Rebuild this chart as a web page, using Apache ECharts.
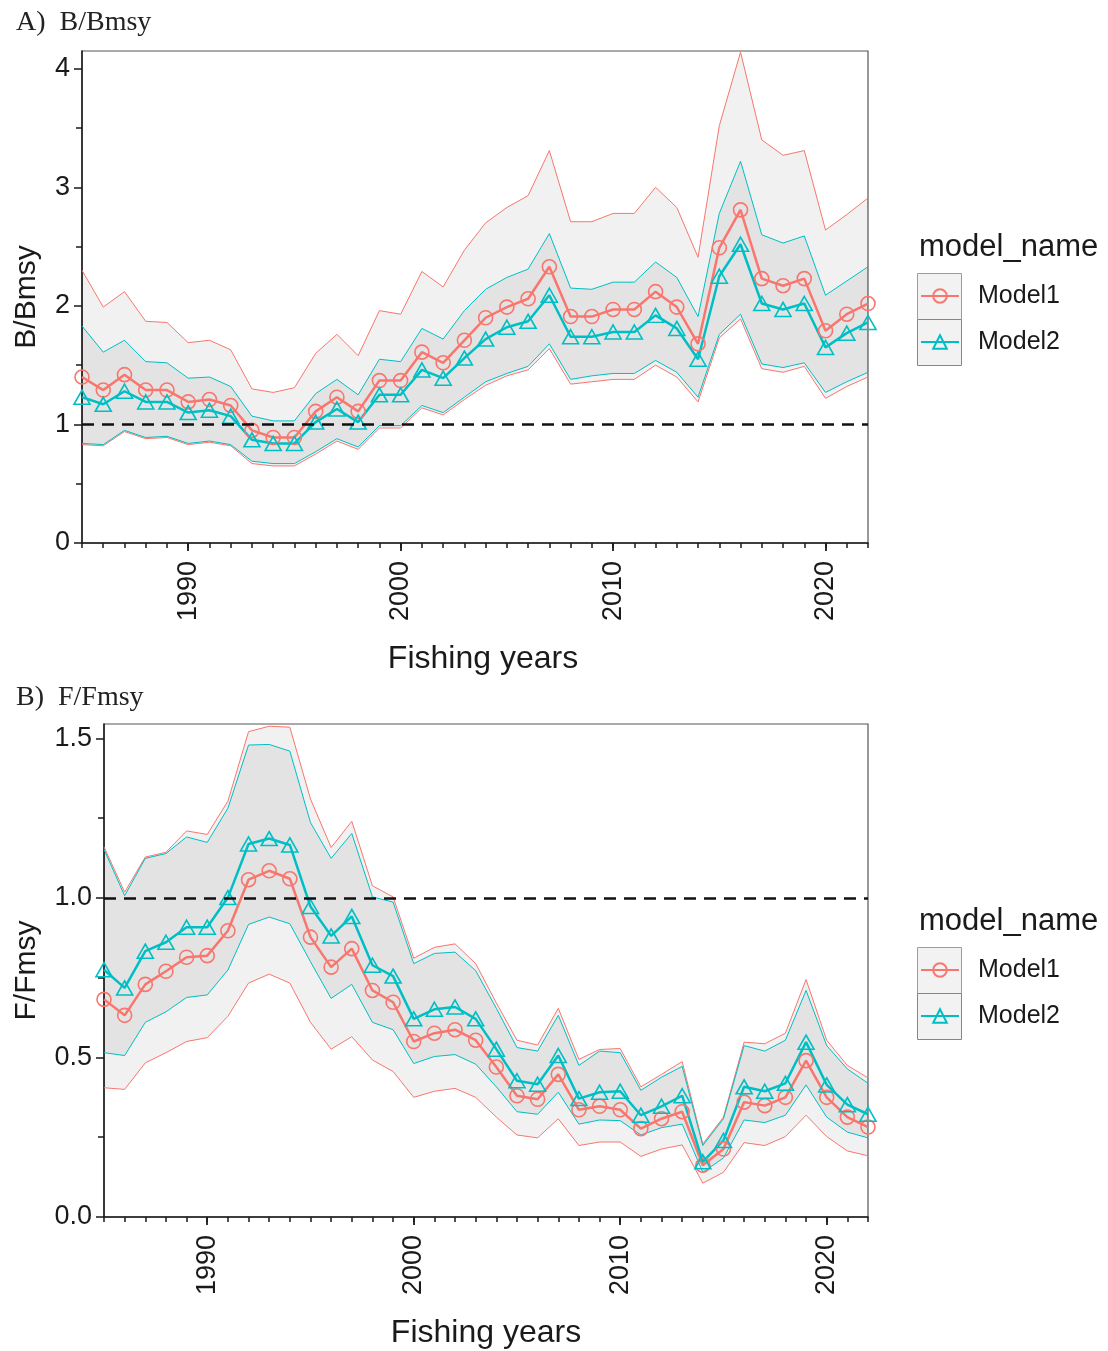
<!DOCTYPE html>
<html>
<head>
<meta charset="utf-8">
<title>B/Bmsy and F/Fmsy by fishing year</title>
<script src="https://cdn.jsdelivr.net/npm/echarts@6/dist/echarts.min.js"></script>
<style>
  html, body { margin: 0; padding: 0; background: #ffffff; }
  #chart { width: 1108px; height: 1351px; }
</style>
</head>
<body>
<div id="chart"></div>
<script>
// ---- data -------------------------------------------------------------
const years = [1985, 1986, 1987, 1988, 1989, 1990, 1991, 1992, 1993, 1994,
               1995, 1996, 1997, 1998, 1999, 2000, 2001, 2002, 2003, 2004,
               2005, 2006, 2007, 2008, 2009, 2010, 2011, 2012, 2013, 2014,
               2015, 2016, 2017, 2018, 2019, 2020, 2021, 2022];
const decadeTicks = [1990, 2000, 2010, 2020];
const modelNames = ['Model1', 'Model2'];

// A) B/Bmsy
const bModel1 = [1.40, 1.29, 1.42, 1.29, 1.29, 1.19, 1.21, 1.16, 0.95, 0.89,
                 0.89, 1.11, 1.23, 1.11, 1.37, 1.37, 1.61, 1.52, 1.71, 1.90,
                 1.99, 2.06, 2.33, 1.91, 1.91, 1.97, 1.97, 2.12, 1.99, 1.68,
                 2.49, 2.81, 2.23, 2.17, 2.23, 1.79, 1.93, 2.02];
const bModel1Lower = [0.83, 0.82, 0.94, 0.88, 0.89, 0.83, 0.85, 0.82, 0.67, 0.65,
                      0.65, 0.75, 0.86, 0.79, 0.97, 0.97, 1.14, 1.08, 1.21, 1.33,
                      1.41, 1.46, 1.64, 1.34, 1.36, 1.38, 1.38, 1.50, 1.40, 1.19,
                      1.73, 1.89, 1.47, 1.44, 1.49, 1.22, 1.32, 1.40];
const bModel1Upper = [2.30, 1.99, 2.12, 1.87, 1.86, 1.69, 1.71, 1.63, 1.30, 1.27,
                      1.31, 1.60, 1.76, 1.58, 1.96, 1.93, 2.29, 2.16, 2.47, 2.70,
                      2.83, 2.93, 3.31, 2.71, 2.71, 2.78, 2.78, 3.00, 2.83, 2.41,
                      3.52, 4.14, 3.40, 3.27, 3.31, 2.64, 2.77, 2.91];
const bModel2 = [1.23, 1.17, 1.28, 1.19, 1.19, 1.10, 1.12, 1.07, 0.87, 0.84,
                 0.84, 1.02, 1.13, 1.02, 1.25, 1.25, 1.46, 1.39, 1.56, 1.72,
                 1.82, 1.87, 2.09, 1.74, 1.74, 1.78, 1.78, 1.92, 1.81, 1.55,
                 2.25, 2.52, 2.02, 1.97, 2.02, 1.65, 1.77, 1.86];
const bModel2Lower = [0.84, 0.83, 0.95, 0.89, 0.90, 0.84, 0.86, 0.83, 0.69, 0.67,
                      0.67, 0.77, 0.88, 0.81, 0.99, 0.99, 1.16, 1.10, 1.23, 1.36,
                      1.43, 1.49, 1.68, 1.38, 1.41, 1.43, 1.43, 1.54, 1.44, 1.23,
                      1.76, 1.93, 1.51, 1.48, 1.52, 1.27, 1.36, 1.44];
const bModel2Upper = [1.83, 1.61, 1.71, 1.53, 1.52, 1.39, 1.40, 1.32, 1.07, 1.03,
                      1.03, 1.26, 1.38, 1.25, 1.55, 1.53, 1.81, 1.72, 1.96, 2.14,
                      2.24, 2.31, 2.61, 2.15, 2.14, 2.20, 2.20, 2.37, 2.24, 1.91,
                      2.78, 3.22, 2.60, 2.53, 2.59, 2.09, 2.21, 2.33];
const bTicks = [0, 1, 2, 3, 4];
const bMinorTicks = [0.5, 1.5, 2.5, 3.5];

// B) F/Fmsy
const fModel1 = [0.682, 0.632, 0.729, 0.770, 0.814, 0.819, 0.897, 1.057, 1.085, 1.060,
                 0.877, 0.783, 0.841, 0.710, 0.673, 0.550, 0.576, 0.587, 0.554, 0.470,
                 0.380, 0.369, 0.447, 0.336, 0.347, 0.336, 0.277, 0.308, 0.330, 0.162,
                 0.213, 0.360, 0.349, 0.375, 0.490, 0.375, 0.313, 0.282];
const fModel1Lower = [0.405, 0.400, 0.483, 0.515, 0.550, 0.562, 0.629, 0.733, 0.761, 0.733,
                      0.610, 0.526, 0.565, 0.492, 0.456, 0.375, 0.394, 0.403, 0.375, 0.313,
                      0.257, 0.248, 0.308, 0.224, 0.235, 0.235, 0.190, 0.213, 0.226, 0.106,
                      0.140, 0.233, 0.224, 0.252, 0.319, 0.252, 0.207, 0.192];
const fModel1Upper = [1.160, 1.018, 1.128, 1.143, 1.210, 1.199, 1.303, 1.521, 1.538, 1.535,
                      1.310, 1.158, 1.240, 1.038, 1.003, 0.811, 0.845, 0.856, 0.794, 0.671,
                      0.554, 0.539, 0.654, 0.494, 0.525, 0.528, 0.408, 0.447, 0.487, 0.229,
                      0.313, 0.548, 0.543, 0.576, 0.744, 0.554, 0.475, 0.436];
const fModel2 = [0.775, 0.718, 0.833, 0.861, 0.908, 0.908, 1.001, 1.169, 1.186, 1.166,
                 0.973, 0.881, 0.942, 0.789, 0.755, 0.621, 0.651, 0.658, 0.621, 0.526,
                 0.427, 0.416, 0.506, 0.371, 0.391, 0.394, 0.319, 0.347, 0.380, 0.173,
                 0.240, 0.408, 0.394, 0.419, 0.548, 0.414, 0.352, 0.322];
const fModel2Lower = [0.515, 0.506, 0.610, 0.643, 0.688, 0.696, 0.774, 0.917, 0.940, 0.919,
                      0.800, 0.685, 0.729, 0.610, 0.587, 0.481, 0.503, 0.509, 0.479, 0.408,
                      0.330, 0.322, 0.391, 0.291, 0.304, 0.302, 0.257, 0.280, 0.291, 0.140,
                      0.185, 0.304, 0.296, 0.319, 0.414, 0.313, 0.266, 0.248];
const fModel2Upper = [1.152, 1.007, 1.124, 1.139, 1.191, 1.174, 1.281, 1.479, 1.481, 1.460,
                      1.236, 1.124, 1.202, 1.003, 0.987, 0.794, 0.826, 0.830, 0.772, 0.654,
                      0.531, 0.520, 0.632, 0.475, 0.520, 0.515, 0.397, 0.438, 0.472, 0.224,
                      0.308, 0.537, 0.520, 0.554, 0.710, 0.537, 0.464, 0.419];
const fTicks = [0, 0.5, 1.0, 1.5];
const fMinorTicks = [0.25, 0.75, 1.25];

// ---- styling ------------------------------------------------------------
const RED = '#F8766D';
const CYAN = '#00BFC4';
const SANS = '"Liberation Sans", Arial, Helvetica, sans-serif';
const SERIF = '"Liberation Serif", "Times New Roman", serif';
const INK = '#1a1a1a';

const panels = [
  {
    label: 'A)  B/Bmsy', yName: 'B/Bmsy',
    grid: { left: 82, top: 51, width: 786, height: 492 },
    yMax: 4.15, ticks: bTicks, minor: bMinorTicks, fmt: v => String(v), yNameGap: 40,
    xNamePad: [0, 0, 0, 16],
    models: [
      { mid: bModel1, lo: bModel1Lower, hi: bModel1Upper },
      { mid: bModel2, lo: bModel2Lower, hi: bModel2Upper }
    ],
    titleTop: 4, legendTop: 283, boxTop: 273, legendTitleTop: 227
  },
  {
    label: 'B)  F/Fmsy', yName: 'F/Fmsy',
    grid: { left: 104, top: 724, width: 764, height: 493 },
    yMax: 1.545, ticks: fTicks, minor: fMinorTicks, fmt: v => v.toFixed(1), yNameGap: 62,
    xNamePad: [0, 0, 0, 0],
    models: [
      { mid: fModel1, lo: fModel1Lower, hi: fModel1Upper },
      { mid: fModel2, lo: fModel2Lower, hi: fModel2Upper }
    ],
    titleTop: 679, legendTop: 957, boxTop: 947, legendTitleTop: 901
  }
];

const modelStyle = [
  { color: RED, symbol: 'circle', symbolSize: 14 },
  { color: CYAN, symbol: 'triangle', symbolSize: [16, 14] }
];

const pairs = arr => years.map((y, i) => [y, arr[i]]);

// interval ribbon drawn as one polygon through the axis scales
function ribbonSeries(pi, lo, hi, name) {
  return {
    type: 'custom', name: name, coordinateSystem: 'cartesian2d',
    xAxisIndex: pi * 2, yAxisIndex: pi * 2, silent: true, z: 1,
    data: years.map((y, i) => [y, lo[i], hi[i]]),
    encode: { x: 0, y: [1, 2] },
    renderItem: (params, api) => {
      if (params.dataIndex !== 0) return null;
      const upper = years.map((y, i) => api.coord([y, hi[i]]));
      const lower = years.map((y, i) => api.coord([y, lo[i]])).reverse();
      return {
        type: 'polygon',
        shape: { points: upper.concat(lower) },
        style: { fill: 'rgba(0,0,0,0.055)', stroke: null }
      };
    }
  };
}

const grids = [], xAxes = [], yAxes = [], series = [], titles = [], legends = [], graphics = [];

panels.forEach((p, pi) => {
  grids.push(Object.assign({
    show: true, borderColor: '#555', borderWidth: 1.2, backgroundColor: '#fff'
  }, p.grid));

  const xi = pi * 2, yi = pi * 2;

  // yearly ticks along the bottom
  xAxes.push({
    type: 'value', gridIndex: pi, position: 'bottom', min: 1985, max: 2022,
    axisLine: { show: true, onZero: false, lineStyle: { color: INK, width: 1.5 } },
    axisTick: { show: true, customValues: years, length: 5, lineStyle: { color: INK, width: 1.5 } },
    axisLabel: { show: false },
    splitLine: { show: false }
  });
  // decade ticks, labels and axis title
  xAxes.push({
    type: 'value', gridIndex: pi, position: 'bottom', offset: 0, min: 1985, max: 2022,
    axisLine: { show: false },
    axisTick: { show: true, customValues: decadeTicks, length: 8, lineStyle: { color: INK, width: 1.8 } },
    axisLabel: {
      show: true, customValues: decadeTicks, rotate: 90, margin: 18,
      formatter: v => String(v),
      fontSize: 27, color: INK, fontFamily: SANS
    },
    splitLine: { show: false },
    name: 'Fishing years', nameLocation: 'middle', nameGap: 100,
    nameTextStyle: { fontSize: 32, color: INK, fontFamily: SANS, padding: p.xNamePad }
  });

  yAxes.push({
    type: 'value', gridIndex: pi, position: 'left', min: 0, max: p.yMax,
    axisLine: { show: true, onZero: false, lineStyle: { color: INK, width: 1.5 } },
    axisTick: { show: true, customValues: p.ticks, length: 8, lineStyle: { color: INK, width: 1.5 } },
    axisLabel: {
      show: true, customValues: p.ticks, formatter: p.fmt, margin: 12,
      fontSize: 27, color: INK, fontFamily: SANS
    },
    splitLine: { show: false },
    name: p.yName, nameLocation: 'middle', nameGap: p.yNameGap, nameRotate: 90,
    nameTextStyle: { fontSize: 30, color: INK, fontFamily: SANS }
  });
  yAxes.push({
    type: 'value', gridIndex: pi, position: 'left', min: 0, max: p.yMax,
    axisLine: { show: false },
    axisTick: { show: true, customValues: p.minor, length: 6, lineStyle: { color: INK, width: 1.5 } },
    axisLabel: { show: false },
    splitLine: { show: false }
  });

  p.models.forEach((m, mi) => {
    const st = modelStyle[mi];
    const name = modelNames[mi];
    series.push(ribbonSeries(pi, m.lo, m.hi, name + ' interval'));
    // thin interval outlines
    [['upper', m.hi], ['lower', m.lo]].forEach(([tag, arr]) => {
      series.push({
        type: 'line', name: name + ' ' + tag, xAxisIndex: xi, yAxisIndex: yi,
        data: pairs(arr), symbol: 'none', showSymbol: false,
        lineStyle: { color: st.color, width: 1 }, silent: true, z: 2
      });
    });
  });

  // estimates with hollow markers
  p.models.forEach((m, mi) => {
    const st = modelStyle[mi];
    const s = {
      type: 'line', name: modelNames[mi], xAxisIndex: xi, yAxisIndex: yi,
      data: pairs(m.mid), symbol: st.symbol, symbolSize: st.symbolSize, showSymbol: true,
      itemStyle: { color: 'rgba(0,0,0,0)', borderColor: st.color, borderWidth: 1.6 },
      lineStyle: { color: st.color, width: 2.5 },
      z: 4
    };
    if (mi === 0) {
      // reference level at 1
      s.markLine = {
        silent: true, symbol: ['none', 'none'], label: { show: false },
        lineStyle: { color: '#111', width: 2.5, type: [12, 8] },
        data: [{ yAxis: 1 }]
      };
    }
    series.push(s);
  });

  titles.push({
    text: p.label, left: 11, top: p.titleTop,
    textStyle: { fontFamily: SERIF, fontSize: 28, fontWeight: 'normal', color: '#222' }
  });
  titles.push({
    text: 'model_name', left: 914, top: p.legendTitleTop,
    textStyle: { fontFamily: SANS, fontSize: 31, fontWeight: 'normal', color: INK }
  });

  // key boxes behind the legend icons
  graphics.push({
    type: 'rect', left: 917, top: p.boxTop, z: 0,
    shape: { width: 44, height: 46 },
    style: { fill: '#f2f2f2', stroke: RED, lineWidth: 1 }
  });
  graphics.push({
    type: 'rect', left: 917, top: p.boxTop + 46, z: 0,
    shape: { width: 44, height: 46 },
    style: { fill: '#f2f2f2', stroke: CYAN, lineWidth: 1 }
  });

  legends.push({
    data: modelNames, orient: 'vertical', left: 920, top: p.legendTop,
    itemWidth: 38, itemHeight: 17, itemGap: 20, padding: 0,
    selectedMode: false,
    textStyle: {
      fontFamily: SANS, fontSize: 25, color: INK, lineHeight: 26,
      padding: [0, 0, 0, 14]
    }
  });
});

const chart = echarts.init(document.getElementById('chart'), null, { renderer: 'canvas' });
chart.setOption({
  animation: false,
  backgroundColor: '#ffffff',
  title: titles,
  legend: legends,
  grid: grids,
  xAxis: xAxes,
  yAxis: yAxes,
  series: series,
  graphic: graphics
});
</script>
</body>
</html>
